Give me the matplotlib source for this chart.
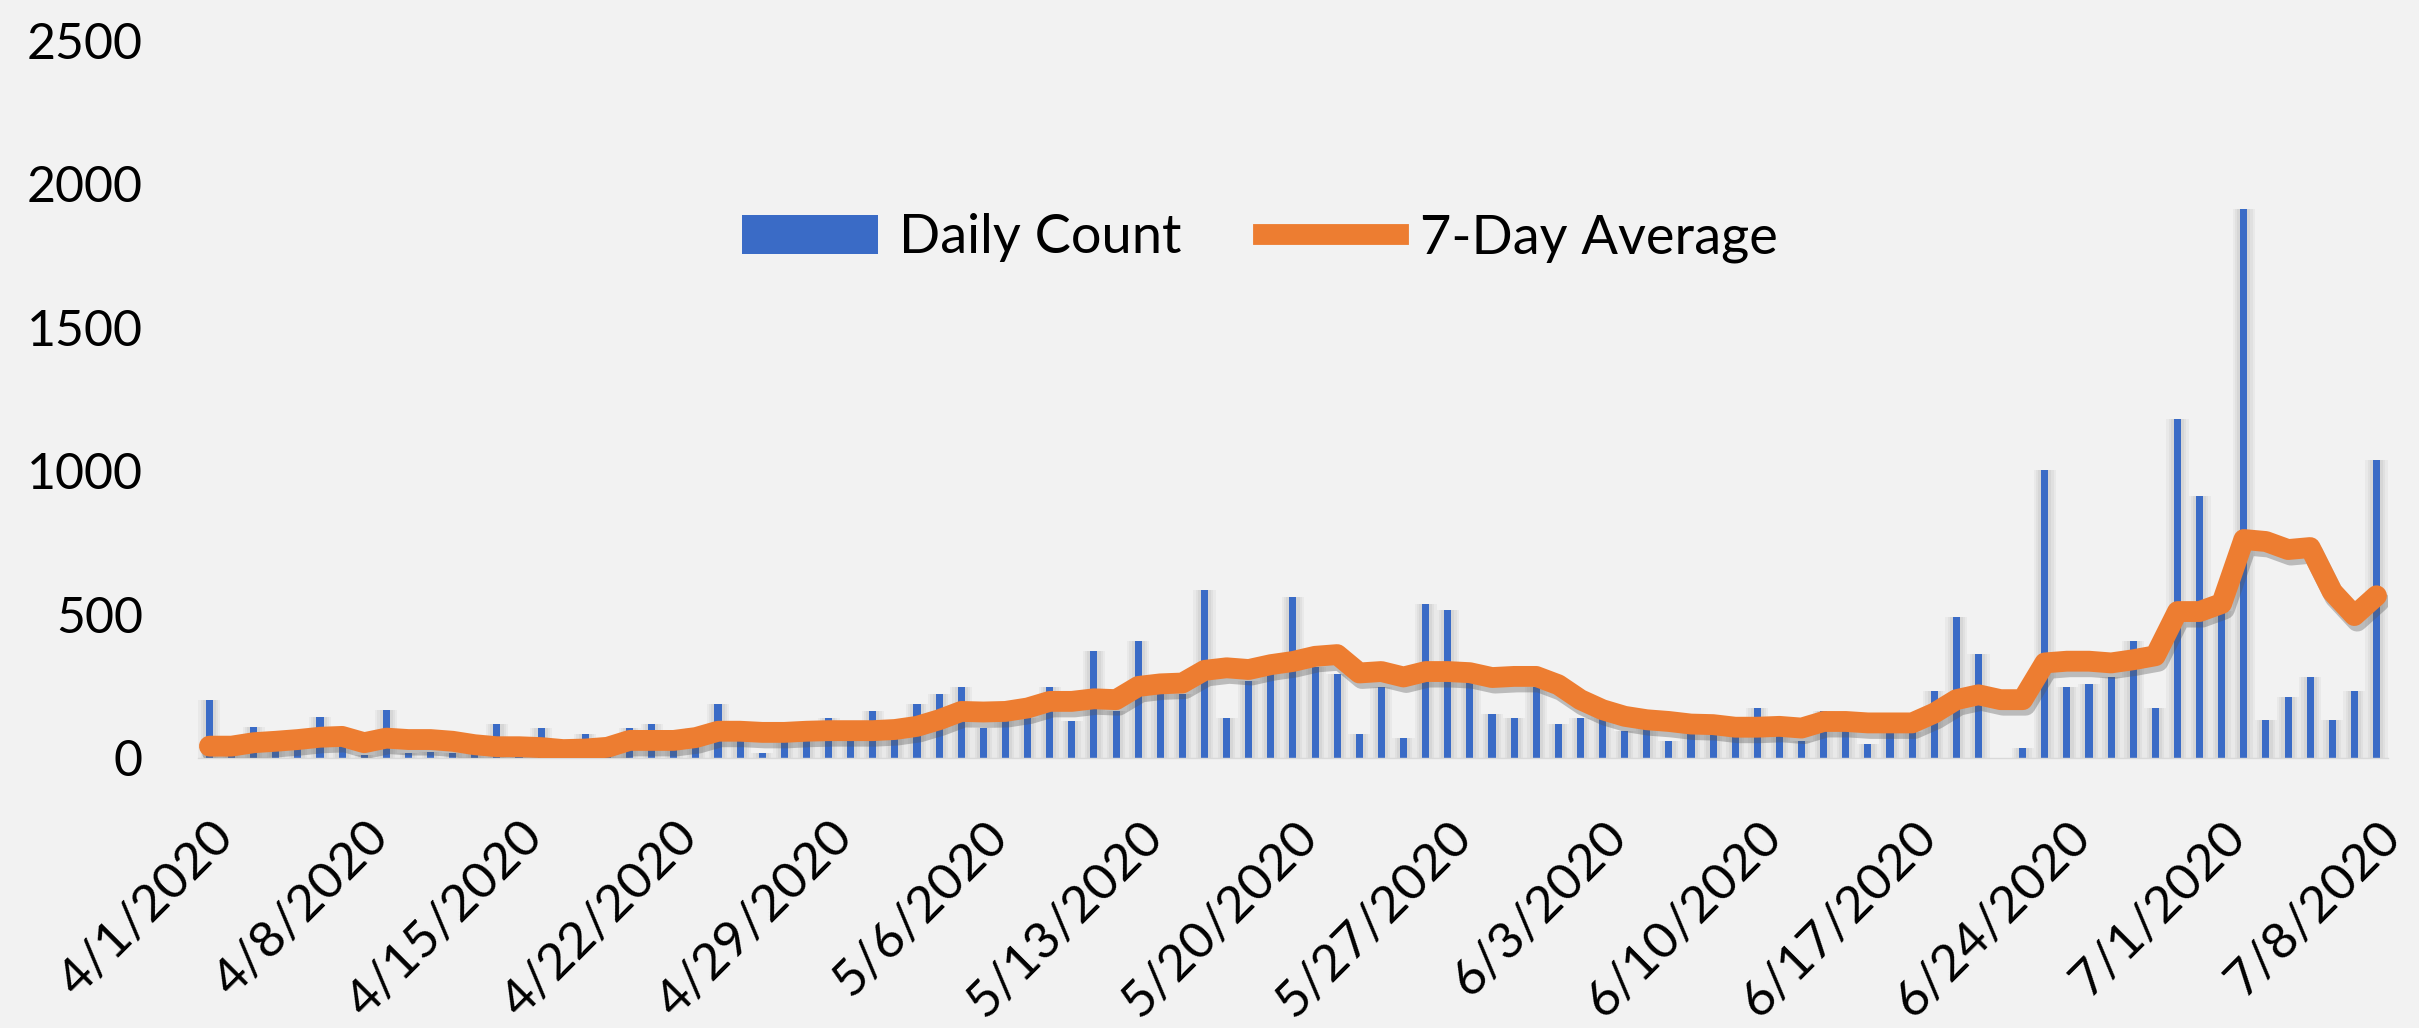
import matplotlib
matplotlib.use("Agg")
import matplotlib.pyplot as plt
import matplotlib.patheffects as pe
from matplotlib.patches import Patch
from matplotlib.lines import Line2D
import numpy as np
import pandas as pd

# Daily counts, 4/1/2020 .. 7/8/2020
DAILY_COUNT = [
    200, 20, 105, 50, 55, 140, 80, 10, 165, 15,
    20, 15, 15, 118, 15, 104, 10, 84, 20, 104,
    118, 60, 104, 188, 80, 15, 80, 80, 139, 100,
    164, 90, 188, 223, 247, 104, 150, 139, 247, 129,
    373, 164, 408, 223, 223, 585, 139, 268, 293, 561,
    317, 293, 84, 247, 70, 537, 516, 290, 153, 139,
    247, 118, 139, 150, 94, 104, 59, 105, 100, 80,
    174, 100, 59, 164, 120, 49, 90, 90, 233, 491,
    362, 0, 35, 1003, 247, 258, 282, 408, 174, 1181,
    913, 510, 1910, 131, 210, 282, 131, 233, 1038,
]

SEVEN_DAY_AVG = [
    40, 40, 52, 57, 63, 71, 74, 52, 68, 63,
    63, 57, 45, 38, 38, 35, 28, 30, 36, 60,
    60, 60, 70, 92, 92, 88, 88, 92, 94, 94,
    94, 98, 109, 132, 161, 159, 161, 173, 196, 196,
    205, 202, 248, 257, 260, 304, 313, 307, 324, 335,
    353, 359, 295, 300, 281, 300, 300, 296, 279, 283,
    283, 254, 202, 167, 144, 132, 126, 117, 115, 106,
    106, 109, 103, 126, 126, 121, 121, 121, 155, 202,
    219, 202, 202, 330, 336, 336, 330, 341, 355, 509,
    509, 537, 760, 753, 725, 732, 578, 495, 564,
]

START_DATE = "2020-04-01"
Y_TICKS = [0, 500, 1000, 1500, 2000, 2500]

BG = "#F2F2F2"
BLUE = "#3A6BC6"
ORANGE = "#ED7D31"
FONT = "Lato"


def main():
    dates = pd.date_range(START_DATE, periods=len(DAILY_COUNT), freq="D")
    labels = [f"{d.month}/{d.day}/{d.year}" for d in dates]
    x = np.arange(len(DAILY_COUNT))

    fig = plt.figure(figsize=(24.19, 10.28), dpi=100, facecolor=BG)
    ax = fig.add_axes([0.082, 0.263, 0.905, 0.698], facecolor=BG)

    # soft glow behind bars
    for w, a in [(1.0, 0.07), (0.8, 0.08), (0.6, 0.10)]:
        ax.bar(x, DAILY_COUNT, width=w, color="#808080", alpha=a,
               linewidth=0, zorder=1)
    ax.bar(x, DAILY_COUNT, width=0.32, color=BLUE, linewidth=0, zorder=2)

    ax.plot(x, SEVEN_DAY_AVG, color=ORANGE, linewidth=15,
            solid_joinstyle="round", solid_capstyle="round", zorder=3,
            path_effects=[pe.SimpleLineShadow(offset=(2, -4), shadow_color="#555555",
                                              alpha=0.35),
                          pe.Normal()])

    ax.set_xlim(-0.5, len(DAILY_COUNT) - 0.5)
    ax.set_ylim(0, 2500)
    ax.set_yticks(Y_TICKS)
    ax.set_yticklabels([str(v) for v in Y_TICKS], fontsize=36, family=FONT)

    tick_idx = x[::7]
    ax.set_xticks(tick_idx)
    ax.set_xticklabels([labels[i] for i in tick_idx], rotation=45, ha="right",
                       rotation_mode="anchor", fontsize=37, family=FONT)

    ax.tick_params(axis="both", length=0, colors="black")
    ax.tick_params(axis="y", pad=40)
    ax.tick_params(axis="x", pad=40)
    for side in ["top", "right", "left"]:
        ax.spines[side].set_visible(False)
    ax.spines["bottom"].set_color("#D9D9D9")
    ax.spines["bottom"].set_linewidth(1.0)

    handles = [
        Patch(facecolor=BLUE, label="Daily Count"),
        Line2D([0], [0], color=ORANGE, linewidth=15, label="7-Day Average"),
    ]
    ax.legend(handles=handles, loc="center", bbox_to_anchor=(0.485, 0.724),
              ncol=2, frameon=False, prop={"family": FONT, "size": 39},
              handlelength=2.5, handleheight=0.75, handletextpad=0.4,
              columnspacing=1.5)

    fig.savefig("out.png", dpi=100, facecolor=BG)
    plt.close(fig)


if __name__ == "__main__":
    main()
